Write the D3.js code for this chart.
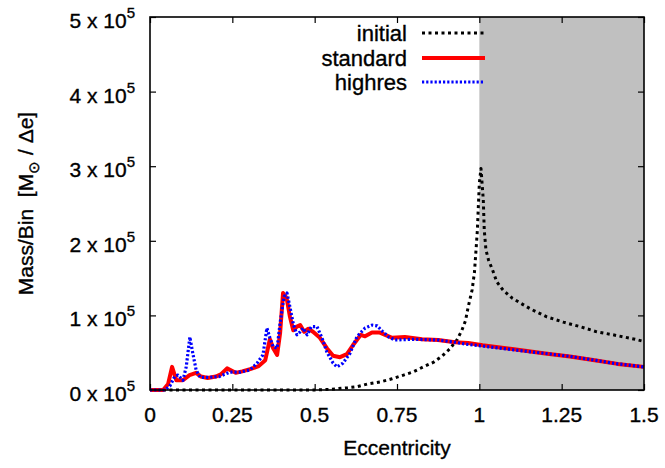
<!DOCTYPE html>
<html>
<head>
<meta charset="utf-8">
<script src="https://cdn.jsdelivr.net/npm/d3@7"></script>
<style>
  html, body { margin: 0; padding: 0; background: #fff; }
  svg text { font-family: "Liberation Sans", Arial, Helvetica, sans-serif; fill: #000; stroke: #000; stroke-width: 0.35px; }
</style>
</head>
<body>
<svg id="chart" width="665" height="468"></svg>
<script>
// ---- data (values in units of 1e5 Msun per bin) ----
const xTicks = [0, 0.25, 0.5, 0.75, 1, 1.25, 1.5];
const xTickLabels = ["0", "0.25", "0.5", "0.75", "1", "1.25", "1.5"];
const yTicks = [0, 1, 2, 3, 4, 5];
const yTickLabels = ["0", "1", "2", "3", "4", "5"];
const unboundRange = [1, 1.5];

const initialE = [0, 0.5, 0.55, 0.6, 0.63, 0.66, 0.70, 0.735, 0.77, 0.80, 0.83, 0.86, 0.886, 0.91, 0.932, 0.947, 0.958, 0.966, 0.978, 0.985, 0.99, 0.994, 0.997, 1.0, 1.005, 1.012, 1.015, 1.02, 1.028, 1.04, 1.053, 1.072, 1.10, 1.154, 1.205, 1.255, 1.305, 1.357, 1.406, 1.473, 1.5];
const initialV = [0, 0, 0.01, 0.03, 0.045, 0.08, 0.11, 0.15, 0.20, 0.245, 0.31, 0.37, 0.45, 0.55, 0.67, 0.80, 0.93, 1.11, 1.34, 1.57, 1.88, 2.14, 2.46, 2.77, 2.97, 2.55, 2.14, 1.88, 1.74, 1.61, 1.45, 1.34, 1.23, 1.09, 0.98, 0.91, 0.85, 0.78, 0.74, 0.68, 0.65];

const standardE = [0, 0.04, 0.055, 0.067, 0.08, 0.1, 0.12, 0.14, 0.155, 0.175, 0.2, 0.215, 0.234, 0.26, 0.28, 0.304, 0.33, 0.35, 0.364, 0.374, 0.386, 0.395, 0.404, 0.415, 0.425, 0.435, 0.446, 0.456, 0.468, 0.48, 0.495, 0.516, 0.537, 0.556, 0.577, 0.598, 0.616, 0.64, 0.653, 0.674, 0.698, 0.714, 0.735, 0.774, 0.826, 0.875, 0.926, 0.966, 1.01, 1.1, 1.2, 1.275, 1.35, 1.42, 1.5];
const standardV = [0, 0, 0.08, 0.31, 0.13, 0.13, 0.2, 0.23, 0.18, 0.16, 0.18, 0.21, 0.29, 0.23, 0.25, 0.28, 0.32, 0.40, 0.68, 0.56, 0.47, 0.76, 1.30, 1.23, 0.98, 0.80, 0.85, 0.87, 0.78, 0.82, 0.78, 0.70, 0.56, 0.46, 0.44, 0.48, 0.60, 0.74, 0.72, 0.77, 0.77, 0.74, 0.70, 0.71, 0.68, 0.67, 0.64, 0.63, 0.60, 0.55, 0.49, 0.45, 0.40, 0.35, 0.31];

const highresE = [0, 0.045, 0.06, 0.075, 0.085, 0.1, 0.11, 0.121, 0.13, 0.14, 0.152, 0.18, 0.21, 0.243, 0.275, 0.304, 0.325, 0.343, 0.355, 0.364, 0.374, 0.386, 0.395, 0.407, 0.416, 0.425, 0.435, 0.446, 0.456, 0.465, 0.477, 0.49, 0.507, 0.522, 0.537, 0.556, 0.568, 0.586, 0.607, 0.628, 0.638, 0.653, 0.674, 0.69, 0.705, 0.725, 0.744, 0.8, 0.875, 0.926, 0.966, 1.01, 1.1, 1.2, 1.275, 1.35, 1.42, 1.5];
const highresV = [0, 0, 0.05, 0.18, 0.2, 0.13, 0.31, 0.71, 0.49, 0.27, 0.17, 0.17, 0.18, 0.24, 0.24, 0.27, 0.36, 0.47, 0.83, 0.70, 0.58, 0.56, 0.90, 1.25, 1.30, 1.11, 0.89, 0.74, 0.78, 0.83, 0.74, 0.85, 0.85, 0.70, 0.51, 0.36, 0.31, 0.36, 0.49, 0.71, 0.76, 0.83, 0.87, 0.86, 0.79, 0.71, 0.67, 0.68, 0.67, 0.64, 0.61, 0.59, 0.54, 0.49, 0.45, 0.40, 0.35, 0.31];

const seriesNames = ["initial", "standard", "highres"];
const seriesColors = ["#000000", "#ff0000", "#0000ff"];

// ---- layout ----
const svg = d3.select("#chart");
const L = 150, R = 644, T = 17, B = 390;
const x = d3.scaleLinear().domain([0, 1.5]).range([L, R]);
const y = d3.scaleLinear().domain([0, 5]).range([B, T]);

// unbound region
svg.append("rect")
  .attr("x", x(unboundRange[0])).attr("y", T)
  .attr("width", x(unboundRange[1]) - x(unboundRange[0]))
  .attr("height", B - T)
  .attr("fill", "#c0c0c0");

// axes ticks (inward, mirrored)
const tickLen = 6;
function styleAxis(g) {
  g.select(".domain").remove();
  g.selectAll(".tick line").attr("stroke", "#000").attr("stroke-width", 1.2);
  g.selectAll(".tick text").remove();
}
svg.append("g").attr("transform", `translate(0,${B})`)
  .call(d3.axisBottom(x).tickValues(xTicks).tickSize(-tickLen)).call(styleAxis);
svg.append("g").attr("transform", `translate(0,${T})`)
  .call(d3.axisTop(x).tickValues(xTicks).tickSize(-tickLen)).call(styleAxis);
svg.append("g").attr("transform", `translate(${L},0)`)
  .call(d3.axisLeft(y).tickValues(yTicks).tickSize(-tickLen)).call(styleAxis);
svg.append("g").attr("transform", `translate(${R},0)`)
  .call(d3.axisRight(y).tickValues(yTicks).tickSize(-tickLen)).call(styleAxis);

// x tick labels
svg.append("g").selectAll("text").data(xTicks).join("text")
  .attr("x", d => x(d)).attr("y", B + 32)
  .attr("text-anchor", "middle").attr("font-size", 21)
  .text((d, i) => xTickLabels[i]);

// y tick labels "N x 10^5"
const yl = svg.append("g").selectAll("text").data(yTicks).join("text")
  .attr("x", 135).attr("y", d => y(d) + 11)
  .attr("text-anchor", "end").attr("font-size", 21);
yl.append("tspan").text((d, i) => yTickLabels[i] + " x 10");
yl.append("tspan").attr("dy", -10).attr("font-size", 15).text("5");

// axis titles
svg.append("text")
  .attr("x", (L + R) / 2).attr("y", 455)
  .attr("text-anchor", "middle").attr("font-size", 21)
  .text("Eccentricity");

const yt = svg.append("text")
  .attr("transform", `translate(33,${(T + B) / 2}) rotate(-90)`)
  .attr("text-anchor", "middle").attr("font-size", 21);
yt.append("tspan").text("Mass/Bin\u00a0\u00a0[M");
yt.append("tspan").attr("dy", 6).attr("font-size", 15).text("\u2299");
yt.append("tspan").attr("dy", -6).text("\u00a0/\u00a0\u0394e]");

// lines
const line = d3.line().x(d => x(d[0])).y(d => y(d[1]));
const seriesData = [
  d3.zip(initialE, initialV),
  d3.zip(standardE, standardV),
  d3.zip(highresE, highresV)
];
const strokeW = [3, 4, 3.2];
const dash = ["3,3.5", null, "2.2,2"];
const plot = svg.append("g");
seriesData.forEach((data, i) => {
  plot.append("path").datum(data)
    .attr("d", line)
    .attr("fill", "none")
    .attr("stroke", seriesColors[i])
    .attr("stroke-width", strokeW[i])
    .attr("stroke-dasharray", dash[i])
    .attr("stroke-linejoin", "round");
});

// frame
svg.append("rect")
  .attr("x", L).attr("y", T).attr("width", R - L).attr("height", B - T)
  .attr("fill", "none").attr("stroke", "#000").attr("stroke-width", 1.6);

// legend
const legY = [33, 58, 82];
const lg = svg.append("g");
seriesNames.forEach((name, i) => {
  lg.append("text")
    .attr("x", 407).attr("y", legY[i] + 8)
    .attr("text-anchor", "end").attr("font-size", 22)
    .text(name);
  lg.append("line")
    .attr("x1", 422).attr("x2", 485)
    .attr("y1", legY[i]).attr("y2", legY[i])
    .attr("stroke", seriesColors[i])
    .attr("stroke-width", strokeW[i])
    .attr("stroke-dasharray", dash[i]);
});
</script>
</body>
</html>
